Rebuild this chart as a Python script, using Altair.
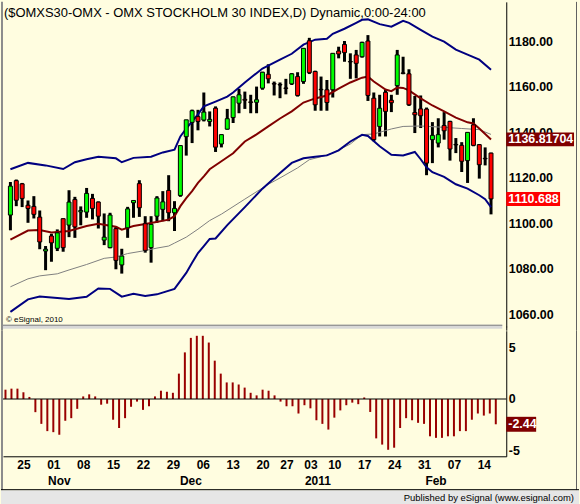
import altair as alt
import pandas as pd

# ---------------- data ----------------
title_text = "($OMXS30-OMX - OMX STOCKHOLM 30 INDEX,D) Dynamic,0:00-24:00"
copyright_text = "\u00a9 eSignal, 2010"
publisher_text = "Published by eSignal (www.esignal.com)"

opens = [1103.6, 1118.7, 1117.3, 1107.9, 1107.4, 1102.7, 1087.8, 1094.4, 1089.0, 1102.0,
         1099.2, 1110.4, 1105.0, 1104.9, 1110.9, 1109.3, 1092.6, 1089.3, 1097.6, 1081.7,
         1098.0, 1109.0, 1117.4, 1099.8, 1089.3, 1103.1, 1106.1, 1114.4, 1104.6, 1112.2,
         1138.0, 1144.3, 1146.8, 1145.3, 1144.7, 1150.5, 1134.8, 1141.3, 1146.4, 1152.7,
         1154.4, 1153.3, 1153.1, 1159.3, 1165.4, 1161.3, 1160.9, 1159.4, 1161.2, 1164.4,
         1162.2, 1180.1, 1166.6, 1158.8, 1158.6, 1158.6, 1175.6, 1178.5, 1171.0, 1173.9,
         1173.1, 1180.0, 1154.9, 1142.5, 1157.5, 1154.0, 1160.4, 1166.0, 1165.6, 1148.6,
         1150.2, 1150.1, 1136.7, 1135.2, 1142.9, 1144.7, 1134.6, 1134.2, 1127.5, 1143.2,
         1134.5, 1128.5, 1130.8]
highs = [1118.1, 1119.2, 1117.7, 1110.0, 1111.9, 1105.6, 1090.0, 1095.4, 1097.3, 1102.1,
         1114.5, 1111.6, 1107.4, 1115.5, 1112.9, 1109.6, 1104.3, 1104.6, 1098.5, 1088.8,
         1107.2, 1110.1, 1118.9, 1103.1, 1103.1, 1111.9, 1114.1, 1121.1, 1109.7, 1134.1,
         1145.4, 1149.9, 1149.8, 1157.4, 1149.1, 1151.3, 1139.0, 1150.2, 1155.6, 1159.0,
         1157.8, 1156.4, 1160.0, 1166.5, 1169.8, 1162.2, 1161.8, 1163.4, 1165.9, 1166.3,
         1176.8, 1181.4, 1167.0, 1164.4, 1162.9, 1174.6, 1177.5, 1180.0, 1174.6, 1176.1,
         1179.7, 1182.6, 1157.4, 1156.4, 1158.6, 1156.4, 1176.1, 1173.1, 1167.6, 1155.9,
         1156.1, 1150.8, 1144.4, 1146.1, 1148.8, 1145.0, 1137.4, 1135.6, 1139.9, 1146.1,
         1134.8, 1133.3, 1131.0]
lows = [1096.9, 1107.5, 1107.1, 1100.2, 1102.1, 1088.6, 1079.4, 1083.1, 1087.8, 1087.5,
        1093.9, 1093.6, 1099.1, 1102.4, 1101.7, 1097.7, 1090.4, 1089.0, 1079.8, 1077.9,
        1093.6, 1102.4, 1102.8, 1087.1, 1082.7, 1100.2, 1100.9, 1100.9, 1096.6, 1111.6,
        1129.7, 1135.2, 1140.8, 1144.7, 1142.5, 1131.3, 1133.3, 1141.1, 1144.0, 1148.3,
        1150.2, 1148.3, 1148.3, 1158.6, 1161.4, 1156.1, 1154.9, 1156.6, 1160.7, 1155.6,
        1161.2, 1165.5, 1149.4, 1149.4, 1149.4, 1155.2, 1172.4, 1170.9, 1163.4, 1163.6,
        1172.7, 1153.7, 1136.0, 1138.1, 1138.1, 1148.8, 1156.4, 1165.4, 1151.5, 1139.6,
        1141.8, 1121.1, 1126.4, 1133.3, 1136.7, 1127.5, 1130.8, 1122.5, 1117.7, 1133.8,
        1119.6, 1125.4, 1103.9]
closes = [1116.3, 1110.1, 1110.9, 1106.5, 1103.9, 1091.8, 1088.6, 1091.4, 1095.8, 1089.3,
          1109.3, 1098.4, 1105.6, 1113.1, 1106.5, 1103.1, 1093.9, 1103.6, 1083.7, 1085.6,
          1106.3, 1110.0, 1106.8, 1088.1, 1099.5, 1111.1, 1109.4, 1104.6, 1106.5, 1134.1,
          1145.4, 1149.4, 1144.7, 1148.8, 1145.6, 1133.4, 1138.9, 1145.9, 1155.5, 1156.4,
          1154.0, 1153.0, 1154.2, 1166.3, 1163.4, 1161.1, 1160.7, 1159.2, 1165.6, 1156.1,
          1176.8, 1166.1, 1152.0, 1158.6, 1153.0, 1174.6, 1174.3, 1174.9, 1170.8, 1170.2,
          1179.4, 1156.1, 1136.7, 1150.5, 1149.1, 1152.9, 1173.9, 1165.8, 1152.0, 1147.6,
          1147.2, 1126.4, 1138.6, 1138.9, 1140.6, 1132.6, 1134.4, 1127.2, 1139.9, 1134.2,
          1125.7, 1128.3, 1110.7]

upper_i = [0, 3, 6, 9, 11, 13, 15, 18, 19, 21, 24, 26, 28, 29, 30, 31, 32, 33, 35, 37, 38, 40,
           41, 43, 46, 48, 50, 52, 54, 55, 57, 59, 60, 61, 63, 65, 67, 68, 70, 72, 74, 76, 78,
           80, 82]
upper_v = [1123.7, 1126.5, 1125.4, 1123.8, 1126.8, 1128.1, 1129.2, 1128.5, 1126.8, 1128.7,
           1129.2, 1131.1, 1132.3, 1138.1, 1141.6, 1144.7, 1147.8, 1151.3, 1153.4, 1155.6,
           1157.4, 1161.8, 1163.9, 1167.9, 1171.8, 1174.4, 1178.4, 1180.6, 1181.0, 1183.2,
           1185.4, 1188.0, 1189.3, 1189.5, 1187.4, 1186.3, 1188.9, 1188.0, 1184.9, 1181.9,
           1179.7, 1176.2, 1174.0, 1171.8, 1167.4]

mid_i = [0, 3, 5, 7, 10, 13, 15, 18, 19, 21, 24, 27, 28, 29, 30, 31, 32, 33, 34, 36, 38, 40,
         42, 44, 46, 48, 50, 52, 54, 56, 58, 60, 61, 62, 64, 65, 66, 67, 68, 70, 72, 74, 76, 78,
         79, 80, 82]
mid_v = [1092.8, 1096.8, 1097.0, 1095.9, 1096.6, 1098.8, 1099.8, 1098.5, 1097.2, 1098.8,
         1100.1, 1101.6, 1103.1, 1107.5, 1111.0, 1114.1, 1117.7, 1120.6, 1123.7, 1127.2,
         1130.7, 1135.9, 1139.0, 1142.5, 1146.0, 1149.1, 1153.0, 1154.8, 1156.1, 1159.1,
         1161.8, 1163.9, 1164.4, 1162.2, 1158.7, 1158.0, 1159.6, 1159.4, 1158.3, 1154.8,
         1151.7, 1149.1, 1146.4, 1144.3, 1143.8, 1141.6, 1136.8]

lower_i = [0, 3, 5, 7, 10, 13, 15, 17, 19, 21, 23, 25, 28, 29, 30, 31, 32, 33, 34, 35, 37, 40,
           43, 46, 48, 50, 52, 54, 56, 58, 60, 61, 63, 65, 67, 69, 70, 71, 72, 74, 76, 78, 80,
           81, 82]
lower_v = [1061.1, 1066.6, 1067.8, 1067.4, 1066.8, 1067.7, 1071.4, 1071.2, 1067.8, 1069.0,
           1068.1, 1068.8, 1071.2, 1074.7, 1078.2, 1082.7, 1086.9, 1090.0, 1093.1, 1093.3,
           1099.2, 1107.1, 1115.2, 1122.1, 1126.5, 1128.5, 1129.2, 1129.8, 1132.0, 1135.9,
           1138.8, 1138.3, 1133.8, 1130.1, 1129.8, 1131.3, 1128.1, 1124.6, 1122.4, 1120.4,
           1117.1, 1115.2, 1112.3, 1110.6, 1107.1]

gray_i = [0, 3, 5, 8, 10, 13, 16, 18, 20, 23, 25, 27, 28, 30, 32, 34, 36, 40, 44, 46, 49, 51,
          53, 55, 58, 60, 62, 65, 67, 70, 74, 77, 80, 82]
gray_v = [1072.1, 1075.6, 1076.9, 1077.8, 1079.5, 1081.9, 1084.6, 1085.2, 1086.7, 1088.0,
          1089.1, 1090.0, 1091.3, 1093.9, 1097.4, 1101.2, 1104.0, 1110.6, 1117.1, 1119.9,
          1124.3, 1127.9, 1129.2, 1130.8, 1134.8, 1138.9, 1139.2, 1141.4, 1142.5, 1142.7,
          1142.1, 1141.6, 1141.1, 1139.0]

osc = [0.9, 1.0, 1.0, 0.65, 0.2, -1.27, -2.4, -3.1, -3.2, -3.45,
       -2.1, -1.85, -0.95, 0.25, 0.45, 0.25, -0.55, -0.45, -2.0, -2.8,
       -1.85, -0.75, -0.25, -1.05, -0.7, 0.25, 0.8, 0.7, 0.6, 2.45,
       4.5, 5.9, 6.1, 6.1, 5.45, 3.7, 2.45, 1.6, 1.6, 1.4,
       1.1, 0.6, 0.35, 0.9, 0.8, 0.35, -0.25, -0.7, -0.7, -1.4,
       -0.6, -0.9, -2.05, -2.4, -2.95, -1.8, -1.1, -0.6, -0.35, -0.5,
       0.15, -1.25, -3.8, -4.4, -4.9, -4.7, -2.8, -1.85, -2.05, -2.3,
       -2.4, -3.6, -3.75, -3.75, -3.6, -3.6, -3.1, -3.1, -2.0, -1.4,
       -1.6, -1.4, -2.44]

price_ticks = [1060, 1080, 1100, 1120, 1140, 1160, 1180]
osc_ticks = [-5, 0, 5]
day_tick_idx = [3, 8, 13, 18, 23, 28, 33, 38, 43, 47, 51, 55, 60, 65, 70, 75, 80]
day_tick_labels = ["25", "01", "08", "15", "22", "29", "06", "13", "20", "27",
                   "03", "10", "17", "24", "31", "07", "14"]
month_pos = [9, 31, 52.25, 72]
month_labels = ["Nov", "Dec", "2011", "Feb"]

mid_last_value, mid_last_text = 1136.81704, "1136.81704"
close_last_value, close_last_text = 1110.688, "1110.688"
osc_last_value, osc_last_text = -2.44, "-2.44"

# ---------------- layout / style ----------------
FONT = "Liberation Sans"
BG = "#FFFDE0"
W = 505
HT = 326
HB = 126
X0 = 2.5
STEP = 6.0
x_dom = [-X0 / STEP, (W - X0) / STEP]
p_dom = [1054.57, 1197.19]
o_dom = [-5.53, 6.59]
PX_PER_PRICE = HT / (p_dom[1] - p_dom[0])
PX_PER_OSC = HB / (o_dom[1] - o_dom[0])

xs = alt.Scale(domain=x_dom, nice=False, zero=False)
ps = alt.Scale(domain=p_dom, nice=False, zero=False)
oscs = alt.Scale(domain=o_dom, nice=False, zero=False)

price_axis = alt.Axis(orient="right", values=price_ticks, format=".2f", ticks=False, tickSize=0,
                      grid=False, domain=True, domainColor="black", domainWidth=1,
                      labelFont=FONT, labelFontSize=12.5, labelFontWeight="bold",
                      labelColor="black", labelPadding=2, title=None, labelFlush=False,
                      labelOverlap=False, labelBound=False)

idx_arr = "[" + ",".join(str(v) for v in day_tick_idx) + "]"
lab_arr = "[" + ",".join("'" + s + "'" for s in day_tick_labels) + "]"
x_axis = alt.Axis(orient="bottom", values=day_tick_idx,
                  labelExpr=f"{lab_arr}[indexof({idx_arr}, datum.value)]",
                  ticks=False, tickSize=0, grid=False, domain=True, domainColor="black",
                  domainWidth=1, labelFont=FONT, labelFontSize=12, labelFontWeight="bold",
                  labelColor="black", labelPadding=3, title=None, labelFlush=False,
                  labelOverlap=False, labelBound=False)
osc_axis = alt.Axis(orient="right", values=osc_ticks, labelExpr="'' + datum.value",
                    ticks=False, tickSize=0, grid=False, domain=True, domainColor="black",
                    domainWidth=1, labelFont=FONT, labelFontSize=12.5, labelFontWeight="bold",
                    labelColor="black", labelPadding=2, title=None, labelFlush=False,
                    labelOverlap=False, labelBound=False)


def XT(field="i:Q"):
    return alt.X(field, scale=xs, axis=None)


def XB(field="i:Q"):
    return alt.X(field, scale=xs, axis=x_axis)


def PY(field):
    return alt.Y(field, scale=ps, axis=price_axis)


def OY(field):
    return alt.Y(field, scale=oscs, axis=osc_axis)


n = len(opens)
cdf = pd.DataFrame({"i": list(range(n)), "open": opens, "high": highs,
                    "low": lows, "close": closes})
one = pd.DataFrame({"a": [0]})


def line_layer(ix, vals, color, width):
    df = pd.DataFrame({"i": ix, "v": vals})
    return alt.Chart(df).mark_line(color=color, strokeWidth=width).encode(
        x=XT(), y=PY("v:Q"))


def tag_layers(value, text, bg, width, yfun, px_per_unit, height):
    half = height / 2.0 / px_per_unit
    df = pd.DataFrame({"v": [value], "t": [text]})
    base = alt.Chart(df).transform_calculate(lo=f"datum.v - {half}", hi=f"datum.v + {half}")
    rect = base.mark_rect(color=bg).encode(
        x=alt.value(W), x2=alt.value(W + width), y=yfun("lo:Q"), y2="hi:Q")
    txt = base.mark_text(align="left", baseline="middle", color="white", font=FONT,
                         fontSize=12.5, fontWeight="bold").encode(
        x=alt.value(W + 2), y=yfun("v:Q"), text="t:N")
    return [rect, txt]


wicks = alt.Chart(cdf).mark_rule(color="black", strokeWidth=3).encode(
    x=XT(), y=PY("low:Q"), y2="high:Q")

bodies = alt.Chart(cdf).transform_calculate(
    dir="datum.close >= datum.open ? 'up' : 'down'"
).mark_bar(size=4, stroke="black", strokeWidth=1, orient="vertical").encode(
    x=XT(), y=PY("open:Q"), y2="close:Q",
    color=alt.Color("dir:N", scale=alt.Scale(domain=["up", "down"], range=["#00FF00", "#FF0000"]),
                    legend=None))

title_layer = alt.Chart(pd.DataFrame({"t": [title_text]})).mark_text(
    align="left", baseline="alphabetic", font=FONT, fontSize=13, color="black").encode(
    x=alt.value(1), y=alt.value(15.5), text="t:N")

copy_layer = alt.Chart(pd.DataFrame({"t": [copyright_text]})).mark_text(
    align="left", baseline="alphabetic", font=FONT, fontSize=8, color="black").encode(
    x=alt.value(3), y=alt.value(321.5), text="t:N")

left_border_top = alt.Chart(one).mark_rule(color="#8C8C8C", strokeWidth=2).encode(
    x=alt.value(-1), y=alt.value(0), y2=alt.value(HT + 4))
sep_rect = alt.Chart(one).mark_rect(color="#D8D8D8").encode(
    x=alt.value(0), x2=alt.value(W - 4), y=alt.value(HT - 2), y2=alt.value(HT + 2))
sep_line = alt.Chart(one).mark_rule(color="#808080", strokeWidth=1).encode(
    x=alt.value(0), x2=alt.value(W - 4), y=alt.value(HT - 1.5))
axis_gap = alt.Chart(one).mark_rule(color="black", strokeWidth=1).encode(
    x=alt.value(W + 0.5), y=alt.value(HT), y2=alt.value(HT + 4))
right_border_top = alt.Chart(one).mark_rule(color="#606060", strokeWidth=1).encode(
    x=alt.value(W + 70.5), y=alt.value(0), y2=alt.value(HT + 4))

top = alt.layer(
    wicks,
    sep_rect, sep_line,
    line_layer(gray_i, gray_v, "#808080", 1),
    line_layer(upper_i, upper_v, "#000080", 2),
    line_layer(lower_i, lower_v, "#000080", 2),
    line_layer(mid_i, mid_v, "#800000", 2),
    bodies,
    title_layer, copy_layer, left_border_top, axis_gap, right_border_top,
    *tag_layers(mid_last_value, mid_last_text, "#800000", 68, PY, PX_PER_PRICE, 14),
    *tag_layers(close_last_value, close_last_text, "#FF0000", 54, PY, PX_PER_PRICE, 14),
).properties(width=W, height=HT)

# ---------------- bottom panel ----------------
odf = pd.DataFrame({"i": list(range(n)), "v": osc})

hist = alt.Chart(odf).mark_rule(color="#990000", strokeWidth=2).encode(
    x=XB(), y=OY("v:Q"), y2=alt.datum(0))
zero_line = alt.Chart(pd.DataFrame({"z": [0]})).mark_rule(color="black", strokeWidth=1).encode(
    y=OY("z:Q"))

mdf = pd.DataFrame({"i": month_pos, "t": month_labels})
months = alt.Chart(mdf).mark_text(font=FONT, fontSize=12, fontWeight="bold", color="black",
                                  baseline="middle", align="center").encode(
    x=XB(), y=alt.value(HB + 25), text="t:N")

left_border_bot = alt.Chart(one).mark_rule(color="#8C8C8C", strokeWidth=2).encode(
    x=alt.value(-1), y=alt.value(0), y2=alt.value(HB + 34))
right_border_bot = alt.Chart(one).mark_rule(color="#606060", strokeWidth=1).encode(
    x=alt.value(W + 70.5), y=alt.value(0), y2=alt.value(HB + 34))
bottom_line = alt.Chart(one).mark_rule(color="black", strokeWidth=1).encode(
    x=alt.value(-2), x2=alt.value(W + 73), y=alt.value(HB + 33.5))
strip = alt.Chart(one).mark_rect(color="#E6E6E6").encode(
    x=alt.value(-2), x2=alt.value(W + 73), y=alt.value(HB + 34), y2=alt.value(HB + 48))
pub = alt.Chart(pd.DataFrame({"t": [publisher_text]})).mark_text(
    align="right", baseline="alphabetic", font=FONT, fontSize=9.5, color="black").encode(
    x=alt.value(W + 68), y=alt.value(HB + 45), text="t:N")

bottom = alt.layer(
    hist, zero_line, months, left_border_bot, right_border_bot, strip, bottom_line, pub,
    *tag_layers(osc_last_value, osc_last_text, "#800000", 30, OY, PX_PER_OSC, 15),
).properties(width=W, height=HB)

chart = alt.vconcat(top, bottom, spacing=4, bounds="flush").properties(
    padding={"left": 0, "top": 0, "right": 0, "bottom": 0}
).configure(background=BG).configure_view(stroke=None, fill=BG)

chart.save("out.html", embed_options={"renderer": "svg", "actions": False})
